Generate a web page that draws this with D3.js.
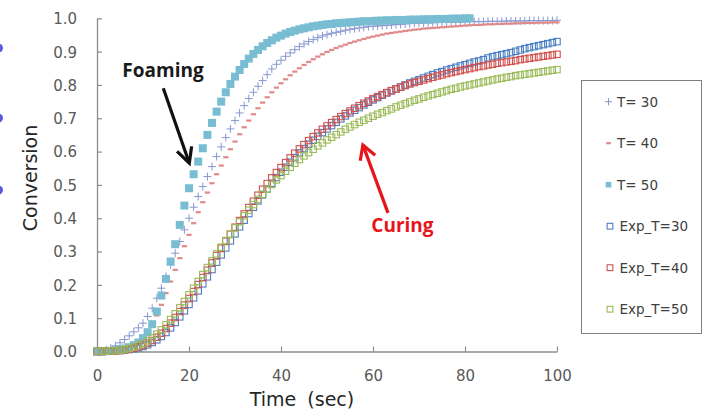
<!DOCTYPE html>
<html>
<head>
<meta charset="utf-8">
<script src="https://cdn.jsdelivr.net/npm/d3@7/dist/d3.min.js"></script>
<style>
  html, body { margin: 0; padding: 0; background: #ffffff; }
  svg { display: block; }
</style>
</head>
<body>
<svg id="chart" width="704" height="416"></svg>
<script>
// ---------------- DATA ----------------
const seriesNames = ["T= 30", "T= 40", "T= 50", "Exp_T=30", "Exp_T=40", "Exp_T=50"];
const xTickValues = [0, 20, 40, 60, 80, 100];
const yTickValues = [0, 0.1, 0.2, 0.3, 0.4, 0.5, 0.6, 0.7, 0.8, 0.9, 1.0];
const xTitle = "Time (sec)";
const yTitle = "Conversion";

// model T=30 (t = 0..100 s)
const modelT30 = [
  0.000, 0.002, 0.005, 0.010, 0.017, 0.026, 0.036, 0.047, 0.059, 0.071,
  0.085, 0.105, 0.130, 0.160, 0.190, 0.225, 0.260, 0.295, 0.330, 0.365,
  0.400, 0.433, 0.465, 0.495, 0.525, 0.555, 0.585, 0.614, 0.642, 0.668,
  0.693, 0.716, 0.738, 0.759, 0.778, 0.796, 0.813, 0.831, 0.848, 0.862,
  0.874, 0.886, 0.896, 0.906, 0.915, 0.923, 0.930, 0.936, 0.942, 0.947,
  0.951, 0.955, 0.958, 0.961, 0.964, 0.967, 0.969, 0.971, 0.973, 0.975,
  0.976, 0.977, 0.978, 0.979, 0.980, 0.981, 0.982, 0.983, 0.984, 0.985,
  0.985, 0.986, 0.986, 0.987, 0.987, 0.988, 0.988, 0.988, 0.989, 0.989,
  0.989, 0.990, 0.990, 0.990, 0.990, 0.991, 0.991, 0.991, 0.991, 0.992,
  0.992, 0.992, 0.992, 0.992, 0.993, 0.993, 0.993, 0.993, 0.993, 0.993,
  0.994
];
// model T=40 (t = 0..100 s)
const modelT40 = [
  0.000, 0.001, 0.002, 0.004, 0.006, 0.009, 0.013, 0.018, 0.025, 0.034,
  0.046, 0.062, 0.082, 0.108, 0.140, 0.175, 0.210, 0.245, 0.280, 0.316,
  0.350, 0.385, 0.418, 0.448, 0.477, 0.505, 0.532, 0.558, 0.583, 0.607,
  0.630, 0.652, 0.673, 0.693, 0.712, 0.730, 0.747, 0.763, 0.778, 0.792,
  0.805, 0.817, 0.829, 0.840, 0.850, 0.860, 0.869, 0.877, 0.885, 0.892,
  0.899, 0.905, 0.911, 0.916, 0.921, 0.926, 0.930, 0.934, 0.938, 0.942,
  0.945, 0.948, 0.951, 0.954, 0.956, 0.958, 0.960, 0.962, 0.964, 0.966,
  0.967, 0.969, 0.970, 0.971, 0.972, 0.973, 0.974, 0.975, 0.976, 0.977,
  0.978, 0.979, 0.980, 0.980, 0.981, 0.982, 0.982, 0.983, 0.983, 0.984,
  0.984, 0.985, 0.985, 0.986, 0.986, 0.986, 0.987, 0.987, 0.987, 0.988,
  0.988
];
// model T=50 (t = 0..81 s)
const modelT50 = [
  0.000, 0.000, 0.001, 0.002, 0.004, 0.006, 0.009, 0.013, 0.019, 0.027,
  0.040, 0.058, 0.082, 0.120, 0.168, 0.218, 0.270, 0.322, 0.380, 0.438,
  0.490, 0.532, 0.570, 0.610, 0.650, 0.686, 0.720, 0.750, 0.778, 0.803,
  0.825, 0.845, 0.863, 0.879, 0.893, 0.905, 0.916, 0.926, 0.934, 0.942,
  0.948, 0.954, 0.959, 0.963, 0.967, 0.970, 0.973, 0.976, 0.978, 0.980,
  0.982, 0.983, 0.985, 0.986, 0.987, 0.988, 0.989, 0.990, 0.991, 0.991,
  0.992, 0.993, 0.993, 0.994, 0.994, 0.995, 0.995, 0.995, 0.996, 0.996,
  0.996, 0.997, 0.997, 0.997, 0.998, 0.998, 0.998, 0.999, 0.999, 0.999,
  1.000, 1.000
];
// experiment T=30 (t = 0..100 s)
const expT30 = [
  0.000, 0.000, 0.001, 0.001, 0.002, 0.003, 0.004, 0.006, 0.008, 0.011,
  0.015, 0.020, 0.027, 0.035, 0.045, 0.057, 0.071, 0.087, 0.104, 0.122,
  0.141, 0.161, 0.182, 0.203, 0.224, 0.246, 0.268, 0.290, 0.311, 0.332,
  0.353, 0.374, 0.394, 0.414, 0.433, 0.452, 0.470, 0.488, 0.505, 0.522,
  0.538, 0.553, 0.568, 0.582, 0.596, 0.609, 0.622, 0.634, 0.646, 0.657,
  0.668, 0.678, 0.688, 0.698, 0.707, 0.716, 0.724, 0.732, 0.740, 0.748,
  0.755, 0.762, 0.769, 0.776, 0.782, 0.788, 0.794, 0.800, 0.806, 0.811,
  0.816, 0.821, 0.826, 0.831, 0.836, 0.840, 0.845, 0.849, 0.853, 0.857,
  0.861, 0.865, 0.869, 0.872, 0.876, 0.881, 0.885, 0.888, 0.891, 0.894,
  0.897, 0.901, 0.905, 0.909, 0.912, 0.915, 0.918, 0.921, 0.924, 0.927,
  0.930
];
// experiment T=40 (t = 0..100 s)
const expT40 = [
  0.000, 0.000, 0.001, 0.001, 0.002, 0.003, 0.005, 0.007, 0.010, 0.014,
  0.019, 0.025, 0.033, 0.043, 0.055, 0.069, 0.085, 0.102, 0.120, 0.139,
  0.159, 0.180, 0.201, 0.222, 0.244, 0.266, 0.288, 0.310, 0.331, 0.352,
  0.373, 0.393, 0.413, 0.432, 0.451, 0.469, 0.487, 0.504, 0.521, 0.537,
  0.552, 0.567, 0.581, 0.595, 0.608, 0.621, 0.633, 0.645, 0.656, 0.667,
  0.677, 0.687, 0.696, 0.705, 0.714, 0.722, 0.730, 0.738, 0.745, 0.752,
  0.759, 0.765, 0.771, 0.777, 0.783, 0.788, 0.793, 0.798, 0.803, 0.807,
  0.811, 0.815, 0.819, 0.823, 0.827, 0.830, 0.834, 0.837, 0.840, 0.843,
  0.846, 0.849, 0.852, 0.855, 0.857, 0.860, 0.862, 0.865, 0.867, 0.869,
  0.871, 0.873, 0.876, 0.878, 0.880, 0.882, 0.884, 0.886, 0.888, 0.890,
  0.892
];
// experiment T=50 (t = 0..100 s)
const expT50 = [
  0.000, 0.001, 0.001, 0.002, 0.003, 0.004, 0.006, 0.009, 0.013, 0.018,
  0.024, 0.032, 0.041, 0.052, 0.065, 0.080, 0.096, 0.113, 0.131, 0.150,
  0.170, 0.190, 0.210, 0.231, 0.252, 0.272, 0.293, 0.313, 0.333, 0.352,
  0.371, 0.389, 0.407, 0.424, 0.441, 0.457, 0.472, 0.487, 0.501, 0.515,
  0.528, 0.541, 0.553, 0.565, 0.576, 0.587, 0.597, 0.607, 0.617, 0.626,
  0.635, 0.643, 0.651, 0.659, 0.667, 0.674, 0.681, 0.688, 0.694, 0.700,
  0.706, 0.712, 0.717, 0.723, 0.728, 0.734, 0.739, 0.744, 0.749, 0.754,
  0.758, 0.763, 0.767, 0.771, 0.775, 0.779, 0.783, 0.787, 0.790, 0.794,
  0.797, 0.800, 0.803, 0.806, 0.809, 0.812, 0.815, 0.818, 0.820, 0.823,
  0.825, 0.828, 0.830, 0.832, 0.834, 0.836, 0.838, 0.840, 0.842, 0.844,
  0.846
];

// annotation anchor points in data units
const foamingLabel = { t: 14.35, v: 0.824, text: "Foaming" };
const foamingArrow = { from: [14.41, 0.79], to: [20.07, 0.565] };
const curingLabel  = { t: 66.4, v: 0.358, text: "Curing" };
const curingArrow  = { from: [63.26, 0.416], to: [57.8, 0.62] };

// ---------------- LAYOUT ----------------
const svg = d3.select("#chart");
const W = 704, H = 416;
const plot = { left: 97, right: 557, top: 18.3, bottom: 351.5 };

const x = d3.scaleLinear().domain([0, 100]).range([plot.left, plot.right]);
const y = d3.scaleLinear().domain([0, 1]).range([plot.bottom, plot.top]);

svg.append("rect").attr("width", W).attr("height", H).attr("fill", "#ffffff");

// faint slide bullet remnants at the left edge (decoration)
[48, 118, 190].forEach(cy => {
  svg.append("circle").attr("cx", -1.5).attr("cy", cy).attr("r", 4.5).attr("fill", "#5b5be0");
});

const axisColor = "#8c8c8c";
const labelColor = "#595959";
const axisFont = "'DejaVu Sans', Verdana, sans-serif";

// Axes
const xAxis = d3.axisBottom(x).tickValues(xTickValues).tickSizeInner(-5).tickSizeOuter(0).tickPadding(18.5)
  .tickFormat(d3.format("d"));
const yAxis = d3.axisLeft(y).tickValues(yTickValues).tickSizeInner(-5).tickSizeOuter(0).tickPadding(20)
  .tickFormat(d3.format(".1f"));

const gx = svg.append("g").attr("transform", `translate(0,${plot.bottom})`).call(xAxis);
const gy = svg.append("g").attr("transform", `translate(${plot.left},0)`).call(yAxis);

[gx, gy].forEach(g => {
  g.select(".domain").attr("stroke", axisColor).attr("stroke-width", 1.3);
  g.selectAll(".tick line").attr("stroke", axisColor).attr("stroke-width", 1.2);
  g.selectAll(".tick text").attr("fill", labelColor).attr("font-family", axisFont).attr("font-size", 15);
});
gy.selectAll(".tick text").attr("dy", "0.36em");

// Axis titles
svg.append("text")
  .attr("x", 302).attr("y", 405.5)
  .attr("text-anchor", "middle")
  .attr("font-family", axisFont).attr("font-size", 19)
  .attr("word-spacing", 5)
  .attr("fill", "#262626")
  .text(xTitle);

svg.append("text")
  .attr("transform", "translate(37,178) rotate(-90)")
  .attr("text-anchor", "middle")
  .attr("font-family", axisFont).attr("font-size", 19)
  .attr("fill", "#262626")
  .text(yTitle);

// ---------------- SERIES ----------------
const series = [
  { name: seriesNames[0], values: modelT30, kind: "plus",   color: "#8797d2" },
  { name: seriesNames[1], values: modelT40, kind: "dash",   color: "#e08a8a" },
  { name: seriesNames[2], values: modelT50, kind: "filled", color: "#78bdd1" },
  { name: seriesNames[3], values: expT30,   kind: "open",   color: "#4a7ec2" },
  { name: seriesNames[4], values: expT40,   kind: "open",   color: "#d0504d" },
  { name: seriesNames[5], values: expT50,   kind: "open",   color: "#9bbb59" }
];

function drawMarker(g, kind, color, scale) {
  const s = scale || 1;
  if (kind === "plus") {
    g.append("path").attr("d", `M${-4*s},0H${4*s}M0,${-4*s}V${4*s}`)
      .attr("stroke", color).attr("stroke-width", 1).attr("fill", "none");
  } else if (kind === "dash") {
    g.append("rect").attr("x", -2.6*s).attr("y", -1.1).attr("width", 5.2*s).attr("height", 2.2)
      .attr("fill", color);
  } else if (kind === "filled") {
    g.append("rect").attr("x", -4*s).attr("y", -4*s).attr("width", 8*s).attr("height", 8*s)
      .attr("fill", color);
  } else if (kind === "open") {
    g.append("rect").attr("x", -3.2*s).attr("y", -3.2*s).attr("width", 6.4*s).attr("height", 6.4*s)
      .attr("fill", "none").attr("stroke", color).attr("stroke-width", 1.1);
  }
}

const gSeries = svg.append("g");
series.forEach(sr => {
  const g = gSeries.append("g");
  const pts = sr.values.map((v, i) => ({ t: i, v: v }));
  g.selectAll("g.pt").data(pts).enter().append("g")
    .attr("class", "pt")
    .attr("transform", d => `translate(${x(d.t)},${y(d.v)})`)
    .each(function() { drawMarker(d3.select(this), sr.kind, sr.color, 1); });
});

// ---------------- ANNOTATIONS ----------------
function arrow(from, to, color, width, len, halfAngle) {
  const x1 = x(from[0]), y1 = y(from[1]), x2 = x(to[0]), y2 = y(to[1]);
  const ang = Math.atan2(y1 - y2, x1 - x2);
  const a1 = ang + halfAngle, a2 = ang - halfAngle;
  svg.append("path")
    .attr("d", `M${x1},${y1}L${x2},${y2}`)
    .attr("stroke", color).attr("stroke-width", width).attr("fill", "none");
  svg.append("path")
    .attr("d", `M${x2 + len*Math.cos(a1)},${y2 + len*Math.sin(a1)}L${x2},${y2}L${x2 + len*Math.cos(a2)},${y2 + len*Math.sin(a2)}`)
    .attr("stroke", color).attr("stroke-width", width).attr("fill", "none")
    .attr("stroke-linejoin", "miter").attr("stroke-linecap", "butt");
}

const annoFont = "'Open Sans', Lato, sans-serif";
svg.append("text")
  .attr("x", x(foamingLabel.t)).attr("y", y(foamingLabel.v))
  .attr("text-anchor", "middle")
  .attr("font-family", annoFont).attr("font-weight", 700).attr("font-size", 19)
  .attr("fill", "#1a1a1a")
  .text(foamingLabel.text);
arrow(foamingArrow.from, foamingArrow.to, "#111111", 3.2, 17, 0.47);

svg.append("text")
  .attr("x", x(curingLabel.t)).attr("y", y(curingLabel.v))
  .attr("text-anchor", "middle")
  .attr("font-family", annoFont).attr("font-weight", 700).attr("font-size", 19)
  .attr("fill", "#e8141c")
  .text(curingLabel.text);
arrow(curingArrow.from, curingArrow.to, "#e8141c", 3.2, 16, 0.52);

// ---------------- LEGEND ----------------
const legend = svg.append("g");
legend.append("rect")
  .attr("x", 581.5).attr("y", 80.5).attr("width", 120).attr("height", 253)
  .attr("fill", "#ffffff").attr("stroke", "#7f7f7f").attr("stroke-width", 1);

series.forEach((sr, i) => {
  const cy = 101.7 + i * 41.5;
  const mg = legend.append("g").attr("transform", `translate(${sr.kind === "open" ? 610 : 608.5},${cy})`);
  if (sr.kind === "plus") drawMarker(mg, "plus", sr.color, 0.9);
  else if (sr.kind === "dash") drawMarker(mg, "dash", sr.color, 0.9);
  else if (sr.kind === "filled") drawMarker(mg, "filled", sr.color, 0.7);
  else drawMarker(mg, "open", sr.color, 0.9);
  legend.append("text")
    .attr("x", sr.kind === "open" ? 619.5 : 617).attr("y", cy).attr("dy", "0.36em")
    .attr("font-family", axisFont).attr("font-size", 13.5)
    .attr("fill", "#404040")
    .text(sr.name);
});
</script>
</body>
</html>
